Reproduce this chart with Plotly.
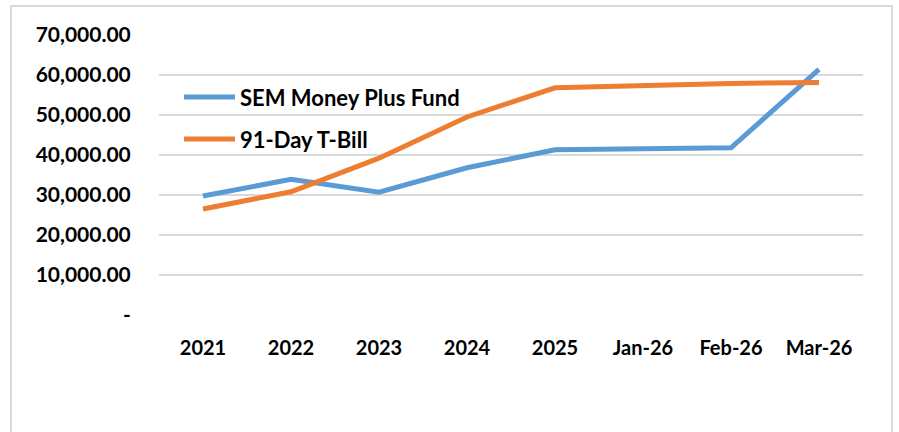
import plotly.graph_objects as go

categories = ["2021", "2022", "2023", "2024", "2025", "Jan-26", "Feb-26", "Mar-26"]
sem_money_plus = [29750, 33900, 30700, 36800, 41300, 41500, 41800, 61400]
tbill_91 = [26500, 30800, 39200, 49500, 56800, 57400, 57900, 58100]
series_names = ["SEM Money Plus Fund", "91-Day T-Bill"]
series_colors = ["#5B9BD5", "#ED7D31"]
y_ticks = [0, 10000, 20000, 30000, 40000, 50000, 60000, 70000]
y_ticktext = ["-" if v == 0 else f"{v:,.2f}" for v in y_ticks]

FONT = "Lato, 'Liberation Sans', sans-serif"

fig = go.Figure()
for name, vals, col in zip(series_names, [sem_money_plus, tbill_91], series_colors):
    fig.add_trace(go.Scatter(x=categories, y=vals, mode="lines", name=name,
                             line=dict(color=col, width=5), showlegend=False))

# target plot area x 159..863, y 35..315 (page body margin removed)
L, R, T, B = 159, 863, 35, 315
W, H = R - L, B - T
def px(x):
    return (x - L) / W
def py(y):
    return (B - y) / H

shapes = [dict(type="rect", xref="paper", yref="paper",
               x0=px(11), x1=px(892), y0=py(460), y1=py(6),
               line=dict(color="#d9d9d9", width=2), fillcolor="rgba(0,0,0,0)", layer="below")]
annotations = []
for i, (name, col) in enumerate(zip(series_names, series_colors)):
    yy = py(97 + 42 * i)
    shapes.append(dict(type="line", xref="paper", yref="paper",
                       x0=px(184), x1=px(235), y0=yy, y1=yy,
                       line=dict(color=col, width=5)))
    annotations.append(dict(xref="paper", yref="paper", x=px(238), y=yy,
                            text=f"<b>{name}</b>", showarrow=False, xanchor="left", yanchor="middle",
                            font=dict(family=FONT, size=22, color="#000000")))

fig.update_layout(
    width=899, height=432,
    margin=dict(l=L, r=899 - R, t=T, b=432 - B),
    paper_bgcolor="white", plot_bgcolor="white",
    font=dict(family=FONT, size=21, color="#000000"),
    shapes=shapes, annotations=annotations,
    xaxis=dict(type="category", showgrid=False, showline=False, zeroline=False,
               ticks="outside", ticklen=15, tickcolor="rgba(0,0,0,0)",
               tickfont=dict(family=FONT, size=20, color="#000000", weight="bold"),
               range=[-0.5, len(categories) - 0.5]),
    yaxis=dict(range=[0, 70000], tickvals=y_ticks, ticktext=y_ticktext,
               showgrid=True, gridcolor="#d9d9d9", gridwidth=1.5,
               zeroline=False, showline=False,
               ticks="outside", ticklen=23, tickcolor="rgba(0,0,0,0)",
               tickfont=dict(family=FONT, size=21, color="#000000", weight="bold")),
)

fig.write_html("out.html", config={"displayModeBar": False},
               post_script="document.body.style.margin='0';document.body.style.overflow='hidden';")
